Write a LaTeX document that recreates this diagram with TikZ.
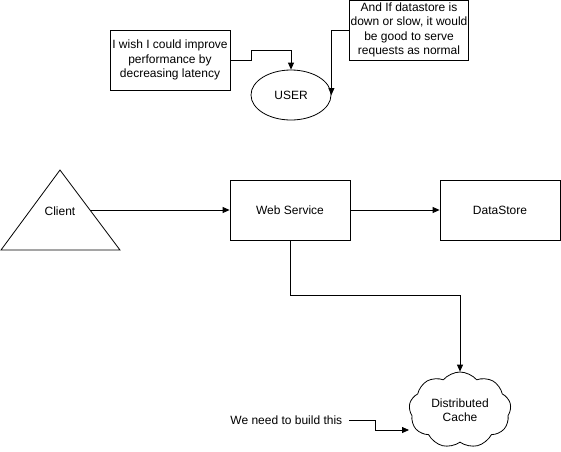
\documentclass[tikz,border=0pt]{standalone}
\usepackage{fontspec}
\setmainfont{Liberation Sans}
\usetikzlibrary{arrows.meta,shapes.geometric,shapes.symbols}
\begin{document}
\begin{tikzpicture}[x=1pt,y=-1pt,
  every node/.style={font=\fontsize{12}{14.5}\selectfont},
  box/.style={draw,line width=0.8pt,align=center,inner sep=1pt},
  arr/.style={draw,line width=0.8pt,-{Triangle[length=7pt,width=6pt]}},
  line width=0.8pt]
\useasboundingbox (0,0) rectangle (561,451);
% notes
\node[box,minimum width=120,minimum height=60] (wish) at (170,60)
  {I wish I could improve\\performance by\\decreasing latency};
\node[box,minimum width=118,minimum height=60] (note) at (409,30)
  {And If datastore is\\down or slow, it would\\be good to serve\\requests as normal};
\node[draw,ellipse,minimum width=80,minimum height=50,inner sep=0pt] (user) at (291,95) {USER};
% client triangle
\draw (1,250) -- (60,170) -- (120,250) -- cycle;
\node (client) at (60,211) {Client};
\coordinate (cr) at (90,210);
\node[box,minimum width=120,minimum height=60] (ws) at (290,210) {Web Service};
\node[box,minimum width=120,minimum height=60] (ds) at (500,210) {DataStore};
\node[draw,cloud,cloud puffs=9,cloud puff arc=100,aspect=1.4,minimum width=102,minimum height=76,align=center,inner sep=0pt] (cache) at (460,410) {Distributed\\Cache};
\node[anchor=west,inner sep=0pt] (need) at (230,420) {We need to build this};
\coordinate (needout) at (349,420);
\coordinate (cachein) at (409,430);
% connectors
\draw[arr] (wish.east) -- ++(21,0) -- ++(0,-10) -| (user.north);
\draw[arr] (note.west) -| (user.east);
\draw[arr] (cr) -- (ws.west);
\draw[arr] (ws.east) -- (ds.west);
\draw[arr] (ws.south) -- ++(0,55) -| (cache.north);
\draw[arr] (needout) -- ++(26,0) |- (cachein);
\end{tikzpicture}
\end{document}
